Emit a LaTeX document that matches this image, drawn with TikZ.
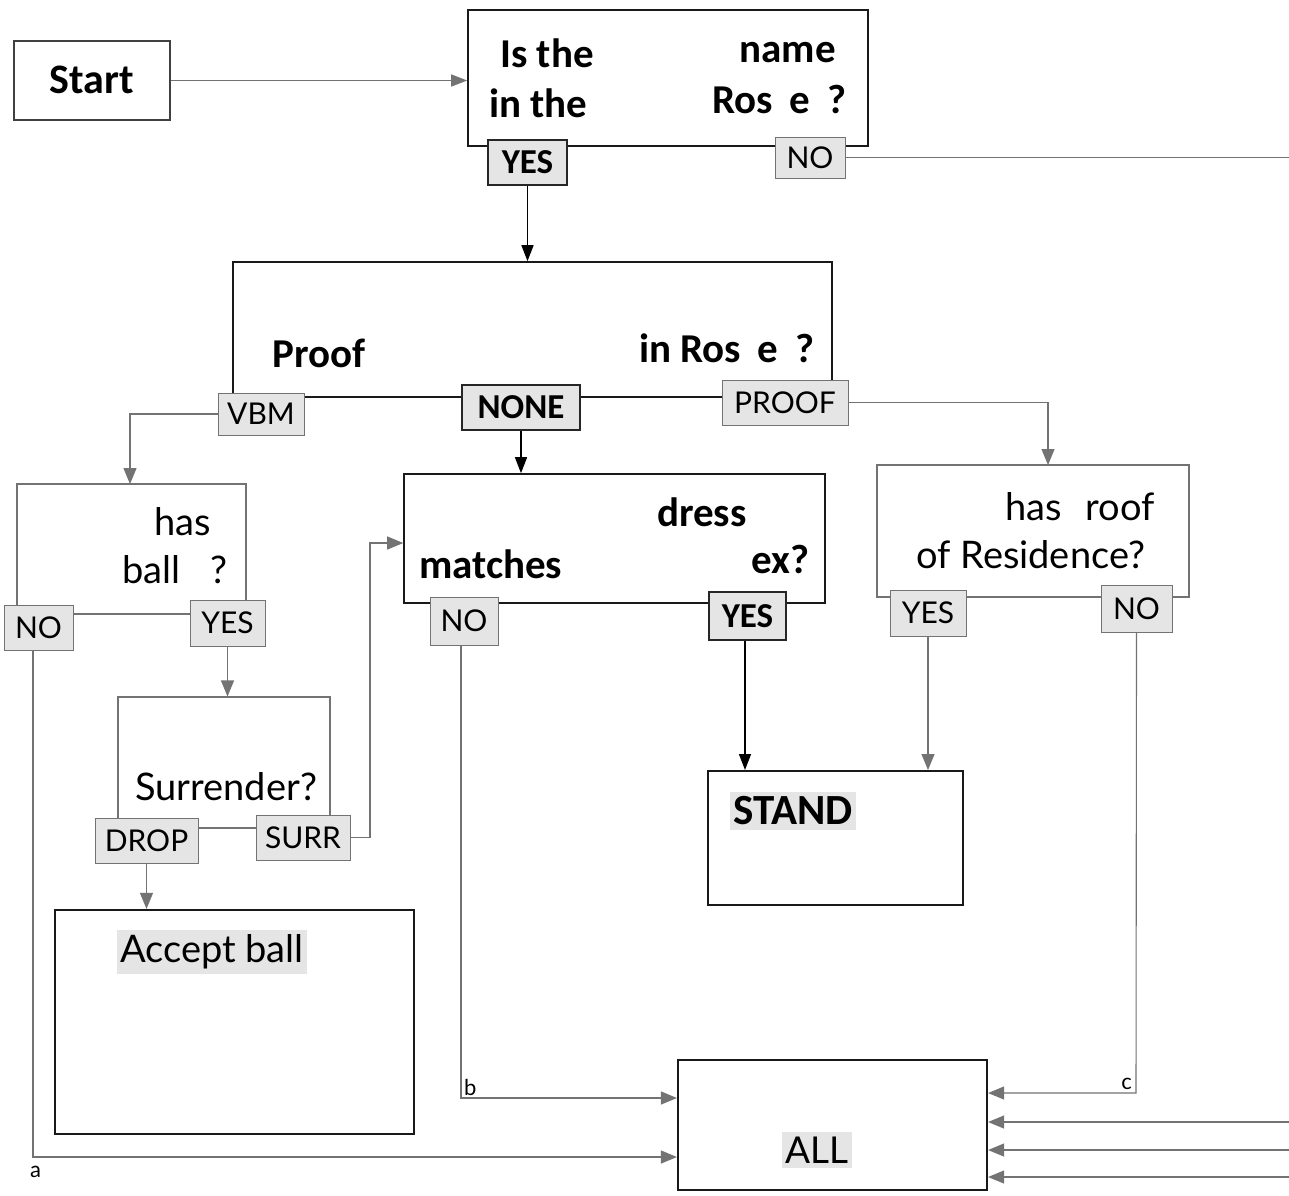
\documentclass[tikz,border=0pt]{standalone}
\usepackage{fontspec}
\setmainfont{Lato}
\newfontfamily\boldfam{Carlito}
\usetikzlibrary{arrows.meta,fit}
\definecolor{ln}{gray}{0.45}
\definecolor{tabfill}{gray}{0.9}
\definecolor{hl}{gray}{0.9}
\tikzset{
  box/.style={draw=black!90, line width=1.6pt, inner sep=0pt},
  lbox/.style={draw=ln, line width=1.1pt, inner sep=0pt},
  tab/.style={draw=ln, fill=tabfill, line width=1pt, inner sep=0pt,
    font=\fontsize{30}{30}\selectfont},
  btab/.style={tab, draw=black!85, line width=1.5pt,
    font=\boldfam\bfseries\fontsize{35}{35}\selectfont},
  bq/.style={font=\boldfam\bfseries\fontsize{41}{41}\selectfont, inner sep=0pt},
  rq/.style={font=\fontsize{38}{38}\selectfont, inner sep=0pt},
  conn/.style={draw=ln, line width=1.1pt, -{Triangle[length=16pt,width=13pt]}},
  dconn/.style={draw=black, line width=1.4pt, -{Triangle[length=16pt,width=12pt]}},
  plain/.style={draw=ln, line width=1.1pt},
  small/.style={font=\fontsize{22}{22}\selectfont, inner sep=0pt},
  hlt/.style={fill=hl, inner xsep=3pt, inner ysep=5pt}
}
\begin{document}
\begin{tikzpicture}[x=1pt,y=-1pt]
\fill[white] (0,0) rectangle (1289,1195);
\useasboundingbox (0,0) rectangle (1289,1195);

% boxes
\node[box, draw=black!75, line width=1.3pt, fit={(14,41) (170,120)}] (start) {};
\node[bq, font=\boldfam\bfseries\fontsize{42}{42}\selectfont] (starttxt) at (92,80) {Start};

\node[box, fit={(468,10) (868,146)}] (q1) {};
\node[bq, anchor=base west] (q1a) at (500,67) {Is the};
\node[bq, anchor=base east] (q1b) at (836,62) {name};
\node[bq, anchor=base west] (q1c) at (489,117) {in the};
\node[bq, anchor=base east] (q1d) at (847,113) {Ros\hspace{16pt}e\hspace{18pt}?};

\node[box, fit={(233,262) (832,397)}] (q2) {};
\node[bq, anchor=base west] (q2a) at (272,367) {Proof};
\node[bq, anchor=base east] (q2b) at (815,362) {in Ros\hspace{16pt}e\hspace{18pt}?};

\node[lbox, fit={(17,484) (246,614)}] (q3) {};
\node[rq, anchor=base west] (q3a) at (154,535) {has};
\node[rq, anchor=base west] (q3b) at (122,583) {ball\hspace{30pt}?};

\node[lbox, fit={(118,697) (330,828)}] (q6) {};
\node[rq, anchor=base west] (q6a) at (135,800) {Surrender?};

\node[box, fit={(404,474) (825,603)}] (q4) {};
\node[bq, anchor=base west] (q4a) at (657,526) {dress};
\node[bq, anchor=base west] (q4b) at (419,578) {matches};
\node[bq, anchor=base east] (q4c) at (810,573) {ex?};

\node[lbox, fit={(877,465) (1189,597)}] (q5) {};
\node[rq, anchor=base west] (q5a) at (1005,520) {has\hspace{24pt}roof};
\node[rq, anchor=base west] (q5b) at (916,568) {of Residence?};

\node[box, line width=2pt, fit={(708,771) (963,905)}] (stand) {};
\node[hlt, font=\boldfam\bfseries\fontsize{43}{43}\selectfont] (standtxt) at (793,811) {STAND};

\node[box, line width=2.2pt, fit={(55,910) (414,1134)}] (accept) {};
\node[hlt, anchor=west, font=\fontsize{38}{38}\selectfont] (accepttxt) at (117,952) {Accept ball};

\node[box, line width=2.2pt, fit={(678,1060) (987,1190)}] (all) {};
\node[hlt, font=\fontsize{37}{37}\selectfont] (alltxt) at (817,1150) {ALL};

% coordinates
\coordinate (noout) at (1289,155);
\coordinate (q3in) at (130,484);
\coordinate (q5in) at (1048,465);
\coordinate (aC) at (33,1157);
\coordinate (bC) at (461,1098);
\coordinate (cC) at (1136,1093);
\coordinate (sC) at (370,543);
\coordinate (r1) at (1289,1122);
\coordinate (r2) at (1289,1150);
\coordinate (r3) at (1289,1177);

% tabs
\node[btab, minimum width=79pt, minimum height=45pt] (q1yes) at (527.5,162.5) {YES};
\node[tab, minimum width=70pt, minimum height=41pt] (q1no) at (810,157.5) {NO};
\node[tab, minimum width=86pt, minimum height=42pt] (vbm) at (261,414) {VBM};
\node[btab, minimum width=118pt, minimum height=45pt] (none) at (521,407.5) {NONE};
\node[tab, minimum width=126pt, minimum height=45pt] (proof) at (785,402.5) {PROOF};
\node[tab, minimum width=69pt, minimum height=45pt] (q3no) at (38.5,627.5) {NO};
\node[tab, minimum width=75pt, minimum height=46pt] (q3yes) at (227.5,623) {YES};
\node[tab, minimum width=103pt, minimum height=45pt] (drop) at (146.5,840.5) {DROP};
\node[tab, minimum width=94pt, minimum height=45pt] (surr) at (303,837.5) {SURR};
\node[tab, minimum width=68pt, minimum height=48pt] (q4no) at (464,621) {NO};
\node[btab, minimum width=77pt, minimum height=48pt] (q4yes) at (747.5,616) {YES};
\node[tab, minimum width=76pt, minimum height=46pt] (q5yes) at (928,613) {YES};
\node[tab, minimum width=71pt, minimum height=47pt] (q5no) at (1136.5,608.5) {NO};

% connectors
\draw[dconn, draw=ln] (start.east) -- (start.east -| q1.west);
\draw[plain] (q1no.east) -- (q1no.east -| noout);
\draw[dconn] (q1yes.south) -- (q1yes.south |- q2.north);
\draw[conn] (vbm.west) -| (q3in);
\draw[conn] (proof.east) -| (q5in);
\draw[dconn] (none.south) -- (none.south |- q4.north);
\draw[conn] (q3yes.south) -- (q3yes.south |- q6.north);
\draw[conn] (q3no.south -| aC) -- (aC) -- (aC -| all.west);
\draw[conn] (drop.south) -- (drop.south |- accept.north);
\draw[conn] (surr.east) -| (sC) -- (sC -| q4.west);
\draw[conn] (q4no.south -| bC) -- (bC) -- (bC -| all.west);
\draw[dconn] (q4yes.south -| 745,0) -- (745,0 |- stand.north);
\draw[conn] (q5yes.south) -- (q5yes.south |- stand.north);
\draw[conn] (q5no.south) -- (cC) -- (cC -| all.east);
\draw[conn] (r1) -- (r1 -| all.east);
\draw[conn] (r2) -- (r2 -| all.east);
\draw[conn] (r3) -- (r3 -| all.east);

\node[small, anchor=north west] (la) at (30,1166) {a};
\node[small, anchor=south west] (lb) at (464,1096) {b};
\node[small, anchor=south east] (lc) at (1132,1090) {c};
\end{tikzpicture}
\end{document}
